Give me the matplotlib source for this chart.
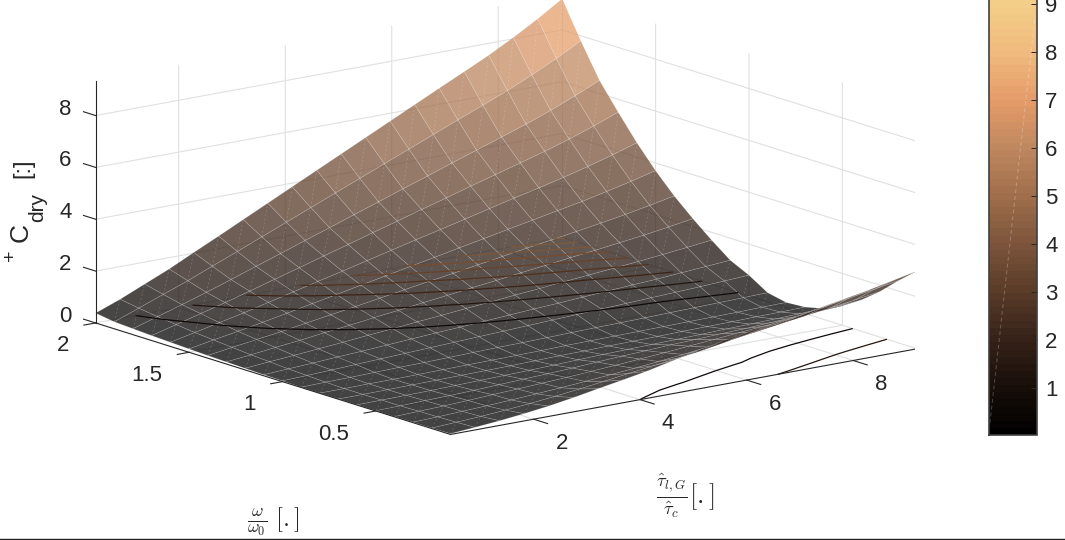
import numpy as np
import matplotlib
matplotlib.use('Agg')
from matplotlib import pyplot as plt
from matplotlib.colors import LinearSegmentedColormap, Normalize
from matplotlib.cm import ScalarMappable
from matplotlib.lines import Line2D
from mpl_toolkits.mplot3d import proj3d
from mpl_toolkits.mplot3d.art3d import Line3DCollection

plt.rcParams['font.family'] = ['Liberation Sans', 'DejaVu Sans']

tau = [0.44, 0.90, 1.36, 1.82, 2.28, 2.75, 3.21, 3.67, 4.13, 4.59,
       5.05, 5.51, 5.97, 6.43, 6.89, 7.36, 7.82, 8.28, 8.74, 9.20]
omega = [0.1, 0.2, 0.3, 0.4, 0.5, 0.6, 0.7, 0.8, 0.9, 1.0,
         1.1, 1.2, 1.3, 1.4, 1.5, 1.6, 1.7, 1.8, 1.9, 2.0]
# one row per omega, one column per tau
cdry = [
    [.03, .10, .18, .28, .40, .55, .72, .88, 1.05, 1.26, 1.47, 1.66, 1.82, 1.95, 2.10, 2.26, 2.43, 2.60, 2.80, 3.00],
    [.02, .07, .12, .19, .27, .37, .48, .60, .73, .85, .97, 1.10, 1.26, 1.43, 1.59, 1.76, 1.92, 2.08, 2.24, 2.40],
    [.02, .05, .09, .13, .18, .24, .30, .37, .45, .53, .62, .72, .83, .95, 1.08, 1.22, 1.35, 1.48, 1.61, 1.75],
    [.01, .04, .07, .11, .16, .20, .25, .30, .36, .42, .49, .56, .64, .72, .80, .88, .96, 1.04, 1.12, 1.20],
    [.01, .02, .05, .07, .10, .14, .18, .22, .26, .32, .37, .41, .46, .49, .53, .56, .61, .65, .70, .75],
    [.01, .02, .03, .04, .06, .08, .10, .12, .15, .18, .21, .23, .25, .27, .29, .32, .34, .36, .39, .42],
    [.01, .01, .02, .03, .04, .05, .06, .07, .09, .11, .12, .14, .15, .16, .18, .19, .20, .22, .23, .25],
    [.01, .01, .02, .02, .03, .04, .05, .06, .07, .08, .10, .11, .12, .13, .14, .15, .16, .17, .19, .20],
    [.01, .03, .04, .06, .08, .09, .11, .13, .15, .16, .18, .20, .22, .23, .25, .27, .29, .31, .33, .35],
    [.03, .06, .10, .14, .18, .22, .26, .30, .34, .38, .42, .46, .50, .54, .58, .62, .66, .70, .75, .80],
    [.04, .09, .14, .20, .25, .31, .37, .43, .48, .54, .60, .66, .71, .77, .83, .89, .94, 1.01, 1.08, 1.15],
    [.06, .14, .21, .29, .37, .46, .54, .63, .71, .80, .88, .97, 1.05, 1.14, 1.22, 1.31, 1.39, 1.49, 1.59, 1.70],
    [.08, .18, .29, .39, .51, .62, .74, .85, .97, 1.08, 1.20, 1.31, 1.43, 1.54, 1.66, 1.77, 1.89, 2.01, 2.15, 2.30],
    [.10, .24, .37, .50, .65, .80, .94, 1.09, 1.24, 1.39, 1.53, 1.68, 1.83, 1.98, 2.12, 2.27, 2.42, 2.58, 2.76, 2.95],
    [.13, .30, .46, .63, .81, 1.00, 1.18, 1.37, 1.55, 1.74, 1.92, 2.11, 2.29, 2.48, 2.66, 2.85, 3.03, 3.24, 3.46, 3.70],
    [.16, .36, .57, .77, 1.00, 1.23, 1.46, 1.68, 1.91, 2.14, 2.37, 2.59, 2.82, 3.05, 3.28, 3.50, 3.73, 3.98, 4.25, 4.55],
    [.19, .44, .69, .94, 1.21, 1.49, 1.76, 2.04, 2.31, 2.59, 2.86, 3.14, 3.41, 3.69, 3.96, 4.24, 4.51, 4.81, 5.14, 5.50],
    [.23, .52, .81, 1.11, 1.43, 1.76, 2.08, 2.41, 2.73, 3.06, 3.38, 3.71, 4.03, 4.36, 4.68, 5.01, 5.33, 5.69, 6.08, 6.50],
    [.27, .62, .98, 1.33, 1.72, 2.11, 2.50, 2.89, 3.28, 3.67, 4.06, 4.45, 4.84, 5.23, 5.62, 6.01, 6.40, 6.83, 7.29, 7.80],
    [.38, .74, 1.15, 1.56, 2.02, 2.48, 2.94, 3.40, 3.86, 4.32, 4.78, 5.24, 5.70, 6.16, 6.62, 7.08, 7.54, 8.05, 8.60, 9.20],
]
tau_ticks = [2, 4, 6, 8]
omega_ticks = [0.5, 1, 1.5]
omega_labels = ['0.5', '1', '1.5', '2']
z_ticks = [0, 2, 4, 6, 8]
cbar_ticks = [1, 2, 3, 4, 5, 6, 7, 8, 9]
contour_levels = [1, 2, 3, 4, 5, 6, 7, 8, 9]
contour_colors = ['#0f0a08', '#23160f', '#3c2314', '#50321e', '#694128',
                  '#784b2d', '#7d5537', '#7d5a3c', '#825f41']

tau_min, tau_max = tau[0], tau[-1]
om_min, om_max = omega[0], omega[-1]
z_top = 9.35
dark = '#262626'
grid_col = '#e0e0e0'

cmap_pos = [0, 1, 2, 3, 4, 5, 6, 7, 8, 9, 9.52]
cmap_rgb = [(0, 0, 0), (25, 15, 10), (55, 35, 25), (90, 60, 40), (125, 85, 60), (160, 110, 75),
            (190, 135, 95), (228, 155, 105), (240, 185, 125), (243, 205, 135), (245, 212, 140)]
cm = LinearSegmentedColormap.from_list(
    'peach', [(p / cmap_pos[-1], tuple(c / 255 for c in rgb)) for p, rgb in zip(cmap_pos, cmap_rgb)], N=64)
norm = Normalize(0.02, 9.52)
face_norm = Normalize(0.02, 11)


def px(x, y):
    return x / 1065, 1 - y / 540


def tick_text(x, y, z, s, ha):
    # plain 2D text at the projected spot
    x2, y2, _ = proj3d.proj_transform(x, y, z, ax.get_proj())
    ax.text2D(x2, y2, s, transform=ax.transData, fontsize=16, color=dark, ha=ha, va='center')


fig = plt.figure(figsize=(10.65, 5.4), dpi=100)
ax = fig.add_axes([75 / 1065, -106 / 540, 840 / 1065, 840 / 540], projection='3d', proj_type='ortho')
ax.set_axis_off()
ax.patch.set_alpha(0)
ax.computed_zorder = False
ax.view_init(elev=13.9, azim=-127.4)
ax.set_box_aspect((588, 585, 250))
ax.set_xticks([])
ax.set_yticks([])
ax.set_zticks([])
ax.set_xlim(tau_min, tau_max, view_margin=0)
ax.set_ylim(om_min, om_max, view_margin=0)
ax.set_zlim(0, z_top, view_margin=0)

T, W = np.meshgrid(tau, omega)
Z = np.array(cdry)

# walls and floor grid
for t in tau_ticks:
    ax.plot([t, t, t], [om_min, om_max, om_max], [0, 0, z_top], color=grid_col, lw=0.8, zorder=1)
for w in omega_ticks:
    ax.plot([tau_min, tau_max, tau_max], [w, w, w], [0, 0, z_top], color=grid_col, lw=0.8, zorder=1)
for z in z_ticks:
    ax.plot([tau_min, tau_max, tau_max], [om_max, om_max, om_min], [z, z, z], color=grid_col, lw=0.8, zorder=1)
ax.plot([tau_max, tau_max], [om_max, om_max], [0, z_top], color=grid_col, lw=0.8, zorder=1)

# surface, flat colour per quad
mid = (Z[:-1, :-1] + Z[1:, :-1] + Z[:-1, 1:] + Z[1:, 1:]) / 4
faces = cm(face_norm(mid))
faces[..., 3] = 0.74
ax.plot_surface(T, W, Z, rstride=1, cstride=1, facecolors=faces, shade=False,
                edgecolor=(1, 1, 1, 0.2), linewidth=0.5, zorder=2)

# triangle diagonals show up as faint dashes
diag = [[(T[j, i], W[j, i], Z[j, i]), (T[j + 1, i + 1], W[j + 1, i + 1], Z[j + 1, i + 1])]
        for j in range(Z.shape[0] - 1) for i in range(Z.shape[1] - 1)]
ax.add_collection3d(Line3DCollection(diag, colors=[(1, 1, 1, 0.2)], linewidths=0.5, linestyles=[(0, (3, 3))], zorder=2.5))

ax.contour(T, W, Z, levels=contour_levels, zdir='z', offset=0, colors=contour_colors, linewidths=0.9, zorder=3)

# axis lines, ticks
ax.plot([tau_min, tau_max], [om_min, om_min], [0, 0], color=dark, lw=0.8, zorder=4)
ax.plot([tau_min, tau_min], [om_min, om_max], [0, 0], color=dark, lw=0.8, zorder=4)
ax.plot([tau_min, tau_min], [om_max, om_max], [0, z_top], color=dark, lw=0.8, zorder=4)
for t in tau_ticks:
    ax.plot([t, t], [om_min, om_min - 0.075], [0, 0], color=dark, lw=0.8, zorder=4)
    tick_text(t, om_min - 0.15, -0.6, str(t), 'center')
for w, lab in zip(omega_ticks + [om_max], omega_labels):
    ax.plot([tau_min, tau_min - 0.22], [w, w], [0, 0], color=dark, lw=0.8, zorder=4)
    tick_text(tau_min - 0.5, w, -0.7, lab, 'right')
for z in z_ticks:
    ax.plot([tau_min, tau_min], [om_max, om_max + 0.065], [z, z], color=dark, lw=0.8, zorder=4)
    tick_text(tau_min - 0.45, om_max, z + 0.42, str(z), 'right')

# z label pieces
for s, xp, yp, fs in [('+', 11, 255, 14), ('C', 21, 233, 19), ('dry', 38, 207, 15), ('[:]', 23, 168, 17)]:
    x, y = px(xp, yp)
    fig.text(x, y, s, fontsize=fs, color=dark, rotation=90, ha='center', va='center')
x, y = px(685, 496)
fig.text(x, y, r'$\frac{\hat{\tau}_{l,G}}{\hat{\tau}_c}[.]$', fontsize=19, color=dark, ha='center', va='center', math_fontfamily='cm')
x, y = px(273, 521)
fig.text(x, y, r'$\frac{\omega}{\omega_0}\ [.]$', fontsize=18, color=dark, ha='center', va='center', math_fontfamily='cm')

# colorbar runs past the top of the figure
cax = fig.add_axes([989 / 1065, 105 / 540, 48 / 1065, 456 / 540])
cb = fig.colorbar(ScalarMappable(norm=norm, cmap=cm), cax=cax, ticks=cbar_ticks)
cb.ax.tick_params(direction='in', length=4, width=0.7, labelsize=16, colors=dark, pad=6)
cb.outline.set_edgecolor('#404040')
cb.outline.set_linewidth(1.2)
cax.plot([0.02, 0.96], [0.026, 0.917], transform=cax.transAxes, color='white', alpha=0.25, lw=0.7, ls=(0, (4, 3)))

fig.add_artist(Line2D([0, 1], [1.5 / 540, 1.5 / 540], color='#222222', lw=1))

fig.savefig('out.png', dpi=100)
